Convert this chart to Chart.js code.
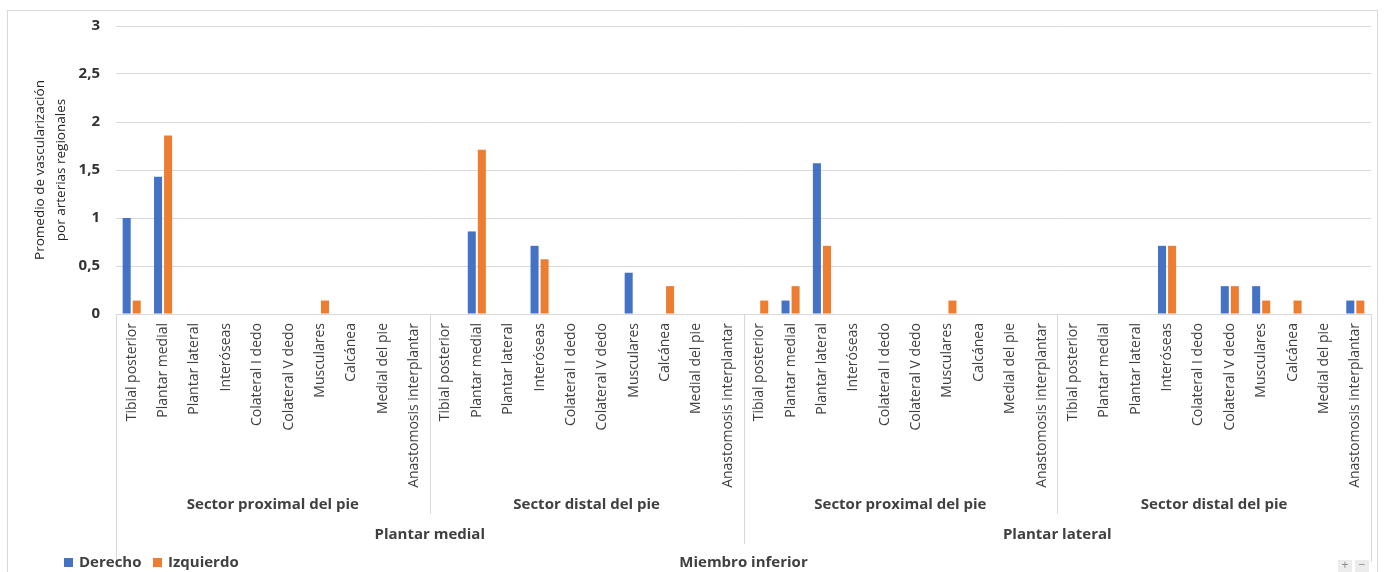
<!DOCTYPE html>
<html>
<head>
<meta charset="utf-8">
<script src="https://cdn.jsdelivr.net/npm/chart.js@4"></script>
<style>
  html, body { margin: 0; padding: 0; background: #fff; }
  #wrap { position: relative; width: 1385px; height: 572px; }
</style>
</head>
<body>
<div id="wrap"><canvas id="chart" width="1385" height="572"></canvas></div>
<script>
// Data
const arteries = ["Tibial posterior", "Plantar medial", "Plantar lateral", "Interóseas", "Colateral I dedo",
  "Colateral V dedo", "Musculares", "Calcánea", "Medial del pie", "Anastomosis interplantar"];
const sectors = ["Sector proximal del pie", "Sector distal del pie"];
const regions = ["Plantar medial", "Plantar lateral"];
const limb = "Miembro inferior";
const seriesNames = ["Derecho", "Izquierdo"];

// Plantar medial / proximal, Plantar medial / distal, Plantar lateral / proximal, Plantar lateral / distal
const derecho = [
  1.00, 1.43, 0, 0, 0, 0, 0, 0, 0, 0,
  0, 0.86, 0, 0.71, 0, 0, 0.43, 0, 0, 0,
  0, 0.14, 1.57, 0, 0, 0, 0, 0, 0, 0,
  0, 0, 0, 0.71, 0, 0.29, 0.29, 0, 0, 0.14
];
const izquierdo = [
  0.14, 1.86, 0, 0, 0, 0, 0.14, 0, 0, 0,
  0, 1.71, 0, 0.57, 0, 0, 0, 0.29, 0, 0,
  0.14, 0.29, 0.71, 0, 0, 0, 0.14, 0, 0, 0,
  0, 0, 0, 0.71, 0, 0.29, 0.14, 0.14, 0, 0.14
];
const yMax = 3;
const yStep = 0.5;

const colors = ["#4472C4", "#ED7D31"];
const FONT = "'Open Sans', 'Liberation Sans', sans-serif";
const TEXT = "#404040";
const LINE = "#d9d9d9";

// 40 category labels: region x sector x artery
const labels = [];
regions.forEach(() => sectors.forEach(() => arteries.forEach(a => labels.push(a))));

const groupsPlugin = {
  id: "groups",
  beforeDraw(chart) {
    const ctx = chart.ctx;
    ctx.save();
    ctx.fillStyle = "#fff";
    ctx.fillRect(0, 0, chart.width, chart.height);
    ctx.strokeStyle = LINE;
    ctx.lineWidth = 1;
    ctx.strokeRect(7.5, 10.5, 1370, 570);
    ctx.restore();
  },
  afterDraw(chart) {
    const ctx = chart.ctx;
    const x = chart.scales.x;
    const bottom = chart.chartArea.bottom;
    const n = labels.length;
    const w = (x.right - x.left) / n;
    const edge = i => Math.round(x.left + i * w) + 0.5;

    ctx.save();
    ctx.strokeStyle = LINE;
    ctx.lineWidth = 1;
    // separator lines between label groups
    const seps = [[0, 568], [10, 514], [20, 544], [30, 514], [40, 562]];
    seps.forEach(([i, y2]) => {
      ctx.beginPath();
      ctx.moveTo(edge(i), bottom);
      ctx.lineTo(edge(i), y2);
      ctx.stroke();
    });

    ctx.fillStyle = TEXT;
    ctx.textAlign = "center";
    ctx.textBaseline = "middle";
    ctx.font = "bold 15px " + FONT;
    for (let g = 0; g < regions.length * sectors.length; g++) {
      ctx.fillText(sectors[g % sectors.length], x.left + (g * 10 + 5) * w, 505);
    }
    ctx.font = "bold 15px " + FONT;
    regions.forEach((r, i) => ctx.fillText(r, x.left + (i * 20 + 10) * w, 535));
    ctx.fillText(limb, (x.left + x.right) / 2, 563);

    // legend
    ctx.textAlign = "left";
    const legendX = [64, 153];
    chart.data.datasets.forEach((ds, i) => {
      ctx.fillStyle = ds.backgroundColor;
      ctx.fillRect(legendX[i], 558, 9, 9);
      ctx.fillStyle = TEXT;
      ctx.fillText(ds.label, legendX[i] + 15, 563);
    });

    // zoom buttons in the corner
    ctx.font = "12px " + FONT;
    ctx.textAlign = "center";
    [["+", 1345], ["\u2212", 1362]].forEach(([s, cx]) => {
      ctx.fillStyle = "#ececec";
      ctx.fillRect(cx - 7, 560, 14, 12);
      ctx.fillStyle = "#8a8a8a";
      ctx.fillText(s, cx, 566);
    });
    ctx.restore();
  }
};

const context = document.getElementById("chart").getContext("2d");
new Chart(context, {
  type: "bar",
  data: {
    labels,
    datasets: [
      { label: seriesNames[0], data: derecho, backgroundColor: colors[0] },
      { label: seriesNames[1], data: izquierdo, backgroundColor: colors[1] }
    ]
  },
  options: {
    responsive: false,
    animation: false,
    datasets: { bar: { barPercentage: 0.8, categoryPercentage: 0.64 } },
    layout: { padding: { left: 7, top: 26, right: 14, bottom: 0 } },
    plugins: { legend: { display: false }, tooltip: { enabled: false } },
    scales: {
      x: {
        grid: { display: false, drawTicks: false },
        border: { display: false },
        ticks: {
          autoSkip: false, maxRotation: 90, minRotation: 90, padding: 9,
          color: TEXT, font: { family: FONT, size: 14 }
        },
        afterFit(scale) { scale.height = 258; }
      },
      y: {
        min: 0, max: yMax,
        grid: { color: LINE, drawTicks: false },
        border: { display: false },
        ticks: {
          stepSize: yStep, padding: 16, color: "#333",
          font: { family: FONT, size: 15, weight: "bold" },
          callback: v => String(v).replace(".", ",")
        },
        title: {
          display: true,
          text: ["Promedio de vascularización", "por arterias regionales"],
          color: "#262626",
          font: { family: FONT, size: 13.5, lineHeight: 1.6 },
          padding: { top: 22, bottom: 0 }
        },
        afterFit(scale) { scale.width = 109; }
      }
    }
  },
  plugins: [groupsPlugin]
});
</script>
</body>
</html>
